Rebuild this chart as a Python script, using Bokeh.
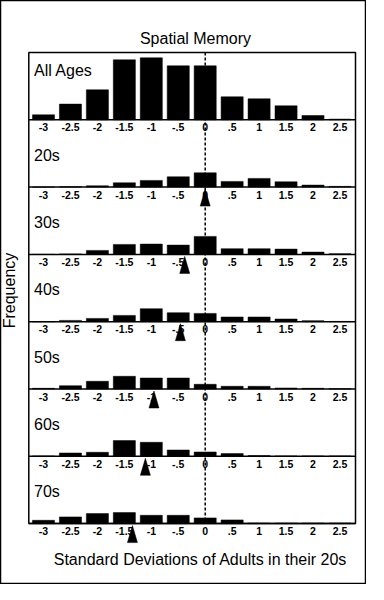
import math
from bokeh.plotting import figure
from bokeh.models import Range1d
from bokeh.embed import file_html
from bokeh.resources import INLINE
from bokeh.core.properties import value

# ---------------- data ----------------
bins = [-3, -2.5, -2, -1.5, -1, -0.5, 0, 0.5, 1, 1.5, 2, 2.5]
tick_labels = ["-3", "-2.5", "-2", "-1.5", "-1", "-.5", "0", ".5", "1", "1.5", "2", "2.5"]
panel_names = ["All Ages", "20s", "30s", "40s", "50s", "60s", "70s"]
all_ages = [5, 15.7, 30, 60, 62, 54, 54, 23, 21, 14, 4.3, 0.7]
age_20s = [0, 0.3, 1.3, 4.3, 6.7, 10.3, 14.3, 5.7, 8.7, 5.3, 2, 0.7]
age_30s = [0, 0.5, 4, 10, 10.3, 9.3, 18, 5.7, 5.7, 5.3, 2.3, 0.7]
age_40s = [0, 1.3, 3.3, 6.3, 13, 9, 8.3, 4.7, 4.7, 2.7, 1, 0.3]
age_50s = [0.7, 3.3, 7.7, 12.7, 11, 11, 4.7, 2.7, 2.7, 1, 0.7, 0.3]
age_60s = [0.3, 3.3, 4, 15.7, 14, 6.3, 4.3, 2.7, 0.7, 0.3, 0.3, 0.3]
age_70s = [3.3, 6.7, 10, 11, 8.3, 8.3, 5.7, 3.7, 0.5, 0.5, 0.5, 0.5]
series = [all_ages, age_20s, age_30s, age_40s, age_50s, age_60s, age_70s]
group_means = [None, 0.0, -0.38, -0.46, -0.95, -1.11, -1.35]

title_text = "Spatial Memory"
y_title = "Frequency"
x_title = "Standard Deviations of Adults in their 20s"

# ---------------- layout ----------------
W, H = 366, 584
OFF = 8           # page margin
PXU = 53.9        # pixels per SD unit
X_AT_M3 = 51      # page x of the -3 bin
FONT = "Liberation Sans"

def xv(page_x):
    return -3 + (page_x - X_AT_M3) / PXU

def yv(page_y):
    return (OFF + H) - page_y

p = figure(width=W, height=H, output_backend="svg", toolbar_location=None,
           x_axis_location=None, y_axis_location=None,
           x_range=Range1d(xv(OFF), xv(OFF + W)), y_range=Range1d(0, H),
           min_border=0)
p.grid.visible = False
p.outline_line_color = "black"
p.outline_line_width = 1.5
p.background_fill_color = "white"

box_l, box_r = xv(36.3), xv(363)
box_t = yv(60)
panel_h = 67.3
first_base = 127.3
bases = [yv(first_base + i * panel_h) for i in range(len(series))]

# bars
for base, vals in zip(bases, series):
    p.vbar(x=bins, width=0.41, bottom=base, top=[base + v for v in vals],
           fill_color="black", line_color="black", line_width=0.5)

# dashed zero line
p.segment(x0=[0], y0=[box_t], x1=[0], y1=[bases[-1]], line_color="black",
          line_width=1.5, line_dash="3 2")

# box and baselines
p.quad(left=[box_l], right=[box_r], top=[box_t], bottom=[bases[-1]],
       fill_color=None, line_color="black", line_width=1.5)
p.segment(x0=[box_l] * len(bases), y0=bases, x1=[box_r] * len(bases), y1=bases,
          line_color="black", line_width=1.5)

# tick labels
for base in bases:
    p.text(x=bins, y=[base - 7.5] * len(bins), text=tick_labels,
           text_font=value(FONT), text_font_size="10.5px", text_font_style="bold",
           text_align="center", text_baseline="middle", text_color="black")

# panel labels
for i, (base, name) in enumerate(zip(bases, panel_names)):
    y = yv(77.5) if i == 0 else base + 32
    p.text(x=[xv(41.5)], y=[y], text=[name], text_font=value(FONT),
           text_font_size="16px", text_align="left", text_baseline="middle",
           text_color="black")

# mean markers
hw = 5 / PXU
for base, m in zip(bases, group_means):
    if m is None:
        continue
    p.patch(x=[m - hw, m, m + hw], y=[base - 19, base - 2, base - 19],
            fill_color="black", line_color="black", line_width=0.5)

# titles
p.text(x=[xv(203)], y=[yv(46)], text=[title_text], text_font=value(FONT),
       text_font_size="16px", text_align="center", text_baseline="middle")
p.text(x=[xv(16.7)], y=[yv(298)], text=[y_title], text_font=value(FONT),
       text_font_size="16px", text_align="center", text_baseline="middle",
       angle=math.pi / 2)
p.text(x=[xv(208)], y=[yv(566.7)], text=[x_title], text_font=value(FONT),
       text_font_size="16px", text_align="center", text_baseline="middle")

open("out.html", "w").write(file_html(p, INLINE))
